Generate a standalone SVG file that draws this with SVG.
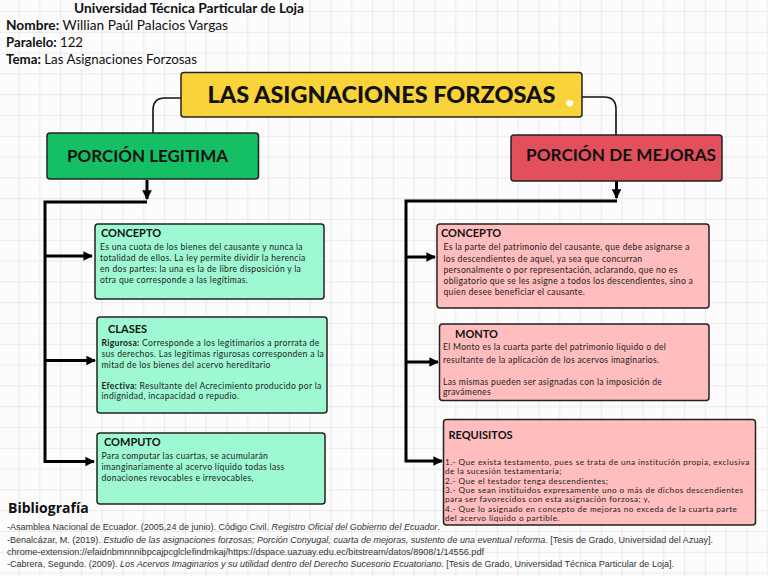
<svg xmlns="http://www.w3.org/2000/svg" width="768" height="576" viewBox="0 0 768 576">
<defs>
<pattern id="grid" x="18.5" y="11" width="20.8" height="20.8" patternUnits="userSpaceOnUse">
<path d="M0 0H20.8M0 0V20.8" fill="none" stroke="#d9d9d9" stroke-width="1"/>
</pattern>
<marker id="ah" viewBox="0 0 10 10" refX="9" refY="5" markerWidth="3.2" markerHeight="3.6" orient="auto" markerUnits="strokeWidth">
<path d="M0 0L10 5L0 10z" fill="#000"/>
</marker>
</defs>
<style>
.hd{font-family:Lato,"Open Sans",sans-serif;font-size:13px;fill:#111}
.b{font-weight:bold}
.main{font-family:Lato,"Open Sans",sans-serif;font-weight:900;font-size:23px;fill:#111}
.lvl1{font-family:Lato,"Open Sans",sans-serif;font-weight:bold;font-size:17.5px;fill:#111}
.ttl{font-family:Lato,"Open Sans",sans-serif;font-weight:bold;font-size:11px;fill:#111}
.bd{font-family:Lato,"Open Sans",sans-serif;font-size:8.6px;letter-spacing:0.3px;fill:#222}
.rq{font-size:8.2px;letter-spacing:0.45px}
.bib{font-family:"Liberation Sans",Arial,sans-serif;font-size:8.6px;fill:#333}
.it{font-style:italic}
.conn{fill:none;stroke:#000;stroke-width:3}
.thin{fill:none;stroke:#111;stroke-width:1.6}
.box{stroke:#222;stroke-width:1.5}
</style>
<rect width="768" height="576" fill="#fcfcfc"/>
<rect width="768" height="576" fill="url(#grid)"/>

<g id="header">
<text class="hd b" x="74" y="12.5" font-size="12.5" textLength="230" lengthAdjust="spacingAndGlyphs">Universidad Técnica Particular de Loja</text>
<text class="hd" x="6" y="30" textLength="222" lengthAdjust="spacingAndGlyphs"><tspan class="b">Nombre:</tspan> Willian Paúl Palacios Vargas</text>
<text class="hd" x="6" y="47" textLength="77" lengthAdjust="spacingAndGlyphs"><tspan class="b">Paralelo:</tspan> 122</text>
<text class="hd" x="6" y="64" textLength="191" lengthAdjust="spacingAndGlyphs"><tspan class="b">Tema:</tspan> Las Asignaciones Forzosas</text>
</g>

<g id="connectors">
<path class="thin" d="M181 98H165Q153 98 153 110V133"/>
<path class="thin" d="M582 97H604Q616 97 616 109V135"/>
<path class="conn" d="M147 180V199" marker-end="url(#ah)"/>
<path class="conn" d="M147 202H45V461.5H94" marker-end="url(#ah)"/>
<path class="conn" d="M45 256H92" marker-end="url(#ah)"/>
<path class="conn" d="M45 360.5H95" marker-end="url(#ah)"/>
<path class="conn" d="M616.5 181V198" marker-end="url(#ah)"/>
<path class="conn" d="M617 201H406V461H442" marker-end="url(#ah)"/>
<path class="conn" d="M406 257H435" marker-end="url(#ah)"/>
<path class="conn" d="M406 362H438" marker-end="url(#ah)"/>
</g>

<g id="main">
<rect class="box" x="181" y="72.5" width="401" height="44.5" rx="3" fill="#f9d33a"/>
<text class="main" x="381.5" y="103" text-anchor="middle" textLength="348" lengthAdjust="spacingAndGlyphs">LAS ASIGNACIONES FORZOSAS</text>
<path d="M566 102l2.5-2.5 2 1.5 2.5-0.5 0.5 3-1.5 2.5-3.5 0.5-2-2z" fill="#fff"/>
</g>

<g id="porcion-legitima">
<rect class="box" x="47" y="133" width="211.5" height="46" rx="3" fill="#14bf65"/>
<text class="lvl1" x="67" y="162" textLength="161" lengthAdjust="spacingAndGlyphs">PORCIÓN LEGITIMA</text>
</g>

<g id="porcion-mejoras">
<rect class="box" x="511" y="135" width="211" height="46" rx="3" fill="#e2505c"/>
<text class="lvl1" x="526" y="161" textLength="190" lengthAdjust="spacingAndGlyphs">PORCIÓN DE MEJORAS</text>
</g>

<g id="concepto-legitima">
<rect class="box" x="95" y="224" width="229" height="75" rx="3" fill="#9ef9d2"/>
<text class="ttl" x="101" y="237">CONCEPTO</text>
<text class="bd" x="100" y="250">Es una cuota de los bienes del causante y nunca la</text>
<text class="bd" x="100" y="261">totalidad de ellos. La ley permite dividir la herencia</text>
<text class="bd" x="100" y="272">en dos partes: la una es la de libre disposición y la</text>
<text class="bd" x="100" y="283">otra que corresponde a las legítimas.</text>
</g>

<g id="clases">
<rect class="box" x="97" y="317" width="230" height="96" rx="3" fill="#9ef9d2"/>
<text class="ttl" x="108" y="333">CLASES</text>
<text class="bd" x="101.5" y="346"><tspan class="b">Rigurosa:</tspan> Corresponde a los legitimarios a prorrata de</text>
<text class="bd" x="101.5" y="357">sus derechos. Las legítimas rigurosas corresponden a la</text>
<text class="bd" x="101.5" y="367.5">mitad de los bienes del acervo hereditario</text>
<text class="bd" x="101.5" y="388.5"><tspan class="b">Efectiva:</tspan> Resultante del Acrecimiento producido por la</text>
<text class="bd" x="101.5" y="399">indignidad, incapacidad o repudio.</text>
</g>

<g id="computo">
<rect class="box" x="97" y="433" width="228" height="71" rx="3" fill="#9ef9d2"/>
<text class="ttl" x="104" y="446">COMPUTO</text>
<text class="bd" x="101.5" y="459">Para computar las cuartas, se acumularán</text>
<text class="bd" x="101.5" y="470">imanginariamente al acervo líquido todas lass</text>
<text class="bd" x="101.5" y="481">donaciones revocables e irrevocables,</text>
</g>

<g id="concepto-mejoras">
<rect class="box" x="437" y="224" width="272" height="84" rx="3" fill="#ffbdbd"/>
<text class="ttl" x="441" y="237">CONCEPTO</text>
<text class="bd" x="443.5" y="250">Es la parte del patrimonio del causante, que debe asignarse a</text>
<text class="bd" x="443.5" y="261.5">los descendientes de aquel, ya sea que concurran</text>
<text class="bd" x="443.5" y="272.5">personalmente o por representación, aclarando, que no es</text>
<text class="bd" x="443.5" y="283.5">obligatorio que se les asigne a todos los descendientes, sino a</text>
<text class="bd" x="443.5" y="295">quien desee beneficiar el causante.</text>
</g>

<g id="monto">
<rect class="box" x="439.5" y="324" width="269.5" height="76.5" rx="3" fill="#ffbdbd"/>
<text class="ttl" x="455" y="338">MONTO</text>
<text class="bd" x="443" y="350">El Monto es la cuarta parte del patrimonio líquido o del</text>
<text class="bd" x="443" y="362.5">resultante de la aplicación de los acervos imaginarios.</text>
<text class="bd" x="443" y="385">Las mismas pueden ser asignadas con la imposición de</text>
<text class="bd" x="443" y="395">gravámenes</text>
</g>

<g id="requisitos">
<rect class="box" x="443.5" y="419.5" width="312" height="105.5" rx="3" fill="#ffbdbd"/>
<text class="ttl" x="448.5" y="438.5">REQUISITOS</text>
<text class="bd rq" x="445" y="465">1.- Que exista testamento, pues se trata de una institución propia, exclusiva</text>
<text class="bd rq" x="445" y="474.3">de la sucesión testamentaria;</text>
<text class="bd rq" x="445" y="483.6">2.- Que el testador tenga descendientes;</text>
<text class="bd rq" x="445" y="492.9">3.- Que sean instituidos expresamente uno o más de dichos descendientes</text>
<text class="bd rq" x="445" y="502.2">para ser favorecidos con esta asignación forzosa; y,</text>
<text class="bd rq" x="445" y="511.5">4.- Que lo asignado en concepto de mejoras no exceda de la cuarta parte</text>
<text class="bd rq" x="445" y="520.8">del acervo líquido o partible.</text>
</g>

<g id="bibliografia">
<text x="8" y="513" font-family="'Open Sans',Lato,sans-serif" font-weight="bold" font-size="14" fill="#111">Bibliografía</text>
<text class="bib" x="7" y="530" textLength="433" lengthAdjust="spacingAndGlyphs">-Asamblea Nacional de Ecuador. (2005,24 de junio). Código Civil. <tspan class="it">Registro Oficial del Gobierno del Ecuador</tspan>.</text>
<text class="bib" x="7" y="542.5" textLength="706" lengthAdjust="spacingAndGlyphs">-Benalcázar, M. (2019). <tspan class="it">Estudio de las asignaciones forzosas; Porción Conyugal, cuarta de mejoras, sustento de una eventual reforma</tspan>. [Tesis de Grado, Universidad del Azuay].</text>
<text class="bib" x="7" y="554.5" textLength="477" lengthAdjust="spacingAndGlyphs">chrome-extension://efaidnbmnnnibpcajpcglclefindmkaj/https://dspace.uazuay.edu.ec/bitstream/datos/8908/1/14556.pdf</text>
<text class="bib" x="7" y="567" textLength="667" lengthAdjust="spacingAndGlyphs">-Cabrera, Segundo. (2009). <tspan class="it">Los Acervos Imaginarios y su utilidad dentro del Derecho Sucesorio Ecuatoriano</tspan>. [Tesis de Grado, Universidad Técnica Particular de Loja].</text>
</g>
</svg>
